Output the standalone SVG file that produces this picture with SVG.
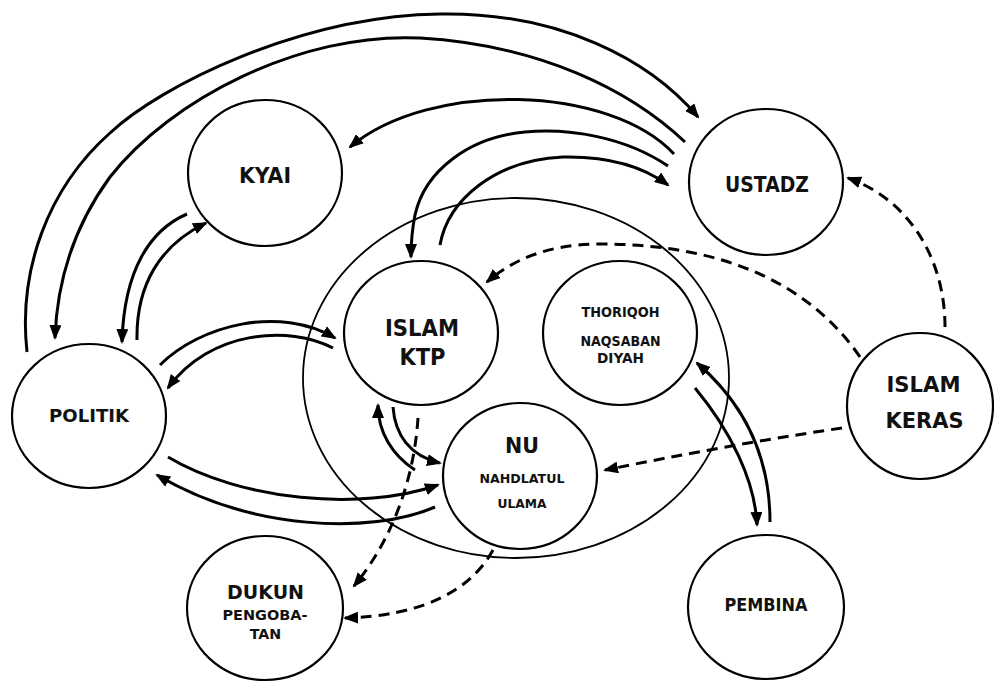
<svg xmlns="http://www.w3.org/2000/svg" width="994" height="682" viewBox="0 0 994 682">
<defs>
<marker id="ah" viewBox="0 0 15 12" refX="13" refY="6" markerWidth="15" markerHeight="12" markerUnits="userSpaceOnUse" orient="auto">
<path d="M0,0 L15,6 L0,12 z" fill="#000"/>
</marker>
<style>
.node{fill:#fff;stroke:#000;stroke-width:2.2}
.container{fill:none;stroke:#000;stroke-width:1.8}
.t{font-family:"DejaVu Sans","Verdana",sans-serif;font-weight:bold;fill:#111;text-anchor:middle}
.c{fill:none;stroke:#000;stroke-width:3}
.solid{marker-end:url(#ah)}
.dash{stroke-dasharray:11 7;marker-end:url(#ah)}
</style>
</defs>
<rect width="994" height="682" fill="#fff"/>

<g id="islam-group">
<ellipse class="container" cx="516" cy="378" rx="213" ry="180"/>
</g>

<g id="kyai">
<ellipse class="node" cx="265" cy="173" rx="77" ry="73"/>
<text class="t" x="265" y="183" font-size="20.5" textLength="52" lengthAdjust="spacingAndGlyphs">KYAI</text>
</g>
<g id="ustadz">
<ellipse class="node" cx="766" cy="182" rx="77" ry="73"/>
<text class="t" x="767" y="192" font-size="21" textLength="84" lengthAdjust="spacingAndGlyphs">USTADZ</text>
</g>
<g id="politik">
<ellipse class="node" cx="89" cy="416" rx="77" ry="72"/>
<text class="t" x="89" y="422" font-size="17.5" textLength="80" lengthAdjust="spacingAndGlyphs">POLITIK</text>
</g>
<g id="islam-ktp">
<ellipse class="node" cx="421" cy="333" rx="77" ry="72"/>
<text class="t" x="422" y="336" font-size="23.5" textLength="74" lengthAdjust="spacingAndGlyphs">ISLAM</text>
<text class="t" x="422.5" y="365" font-size="23.5" textLength="46" lengthAdjust="spacingAndGlyphs">KTP</text>
</g>
<g id="thoriqoh">
<ellipse class="node" cx="620" cy="333" rx="77" ry="72"/>
<text class="t" x="620.5" y="317" font-size="13.3" textLength="78" lengthAdjust="spacingAndGlyphs">THORIQOH</text>
<text class="t" x="620.5" y="346" font-size="13.3" textLength="80" lengthAdjust="spacingAndGlyphs">NAQSABAN</text>
<text class="t" x="620.5" y="363" font-size="13.3" textLength="47" lengthAdjust="spacingAndGlyphs">DIYAH</text>
</g>
<g id="nu">
<ellipse class="node" cx="520" cy="476" rx="77" ry="73"/>
<text class="t" x="522" y="453" font-size="21.5" textLength="34" lengthAdjust="spacingAndGlyphs">NU</text>
<text class="t" x="522" y="483" font-size="12.5" textLength="85" lengthAdjust="spacingAndGlyphs">NAHDLATUL</text>
<text class="t" x="522" y="508" font-size="12.5" textLength="49" lengthAdjust="spacingAndGlyphs">ULAMA</text>
</g>
<g id="islam-keras">
<ellipse class="node" cx="920" cy="406" rx="73" ry="73"/>
<text class="t" x="923.5" y="392" font-size="22" textLength="74" lengthAdjust="spacingAndGlyphs">ISLAM</text>
<text class="t" x="924.5" y="428" font-size="22" textLength="78" lengthAdjust="spacingAndGlyphs">KERAS</text>
</g>
<g id="dukun">
<ellipse class="node" cx="265" cy="608" rx="78" ry="72"/>
<text class="t" x="265.5" y="599" font-size="19.2" textLength="77" lengthAdjust="spacingAndGlyphs">DUKUN</text>
<text class="t" x="265" y="620" font-size="14.7" textLength="85" lengthAdjust="spacingAndGlyphs">PENGOBA-</text>
<text class="t" x="265.5" y="639" font-size="14.7" textLength="31.5" lengthAdjust="spacingAndGlyphs">TAN</text>
</g>
<g id="pembina">
<ellipse class="node" cx="766" cy="607" rx="78" ry="72"/>
<text class="t" x="766" y="611" font-size="17.5" textLength="83" lengthAdjust="spacingAndGlyphs">PEMBINA</text>
</g>

<g id="connectors">
<path class="c solid" d="M27,352 C 18,270 48,188 110,133 C 160,86 300,16 440,14 C 560,12 650,60 698,117"/>
<path class="c solid" d="M685,142 C 630,90 540,45 420,38 C 300,32 170,100 110,177 C 75,225 57,280 55,338"/>
<path class="c solid" d="M674,154 C 610,85 430,80 350,147"/>
<path class="c solid" d="M668,166 C 625,137 570,128 525,132 C 470,137 425,170 415,215 C 412,230 411,245 411,257"/>
<path class="c solid" d="M440,245 C 448,200 495,160 563,157 C 610,156 645,168 668,185"/>
<path class="c solid" d="M187,214 C 150,230 124,270 122,342"/>
<path class="c solid" d="M137,340 C 136,285 160,245 206,223"/>
<path class="c solid" d="M160,365 C 200,325 280,305 335,338"/>
<path class="c solid" d="M333,348 C 290,325 210,330 168,388"/>
<path class="c solid" d="M168,457 C 240,500 360,512 438,485"/>
<path class="c solid" d="M435,507 C 370,535 250,530 157,475"/>
<path class="c solid" d="M415,470 C 392,455 378,432 378,405"/>
<path class="c solid" d="M393,407 C 395,435 410,456 440,463"/>
<path class="c dash" d="M418,418 C 414,480 392,540 354,586"/>
<path class="c dash" d="M493,550 C 470,592 420,616 345,618"/>
<path class="c dash" d="M945,327 C 945,260 910,200 848,178"/>
<path class="c dash" d="M860,357 C 800,270 700,244 600,244 C 545,244 510,262 487,282"/>
<path class="c dash" d="M842,428 C 760,440 680,455 605,470"/>
<path class="c solid" d="M770,522 C 770,450 740,400 697,363"/>
<path class="c solid" d="M695,388 C 730,430 755,480 757,525"/>
</g>
</svg>
